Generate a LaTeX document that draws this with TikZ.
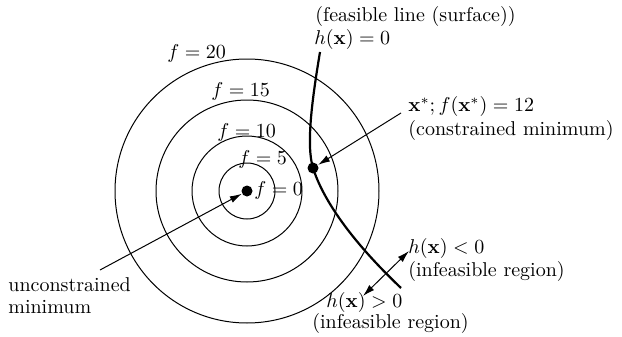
\documentclass[tikz,border=0pt]{standalone}
\usetikzlibrary{arrows.meta}
\begin{document}
\begin{tikzpicture}[x=0.5pt,y=-0.5pt,
  contour/.style={line width=0.5pt},
  feas/.style={line width=1.1pt},
  dotnode/.style={circle,fill=black,inner sep=0pt,minimum size=5.5pt},
  lbl/.style={anchor=base west,inner sep=0pt},
  arr/.style={line width=0.5pt,-{Latex[length=6pt,width=3.5pt]}},
  darr/.style={line width=0.5pt,{Latex[length=6pt,width=3.5pt]}-{Latex[length=6pt,width=3.5pt]}}]
\useasboundingbox (0,0) rectangle (622,337);
\coordinate (c) at (247,191);
\foreach \r in {28,55,91,132} \draw[contour] (c) circle[radius=\r];
\node[dotnode] (um) at (c) {};
\node[dotnode] (xs) at (313,168) {};
\draw[feas] (320,52) .. controls (312,100) and (306,145) .. (313,168)
            .. controls (320,190) and (340,230) .. (401,288);
% contour labels
\node[lbl] (f20) at (167,58) {$f=20$};
\node[lbl] (f15) at (211,97) {$f=15$};
\node[lbl] (f10) at (217,137) {$f=10$};
\node[lbl] (f5) at (238,164) {$f=5$};
\node[lbl] (f0) at (254,195) {$f=0$};
% other labels
\node[lbl] (fl) at (315,21) {(feasible line (surface))};
\node[lbl] (h0) at (314,45) {$h(\mathbf{x})=0$};
\node[lbl] (xl) at (408,112) {$\mathbf{x}^*; f(\mathbf{x}^*)=12$};
\node[lbl] (cm) at (408,135) {(constrained minimum)};
\node[lbl] (hl) at (408,253) {$h(\mathbf{x})<0$};
\node[lbl] (ir1) at (408,276) {(infeasible region)};
\node[lbl] (hg) at (326,307) {$h(\mathbf{x})>0$};
\node[lbl] (ir2) at (312,328) {(infeasible region)};
\node[lbl] (uc) at (8,291) {unconstrained};
\node[lbl] (mn) at (8,313) {minimum};
% arrows
\coordinate (a1) at (100,270);
\draw[arr] (a1) -- (um);
\coordinate (a2) at (401,113);
\draw[arr] (a2) -- (xs);
\coordinate (d1) at (363,296);
\coordinate (d2) at (409,251);
\draw[darr] (d1) -- (d2);
\end{tikzpicture}
\end{document}
